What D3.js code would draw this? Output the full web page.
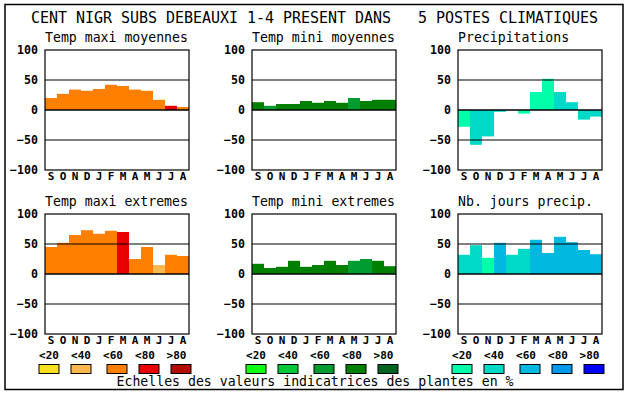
<!DOCTYPE html>
<html>
<head>
<meta charset="utf-8">
<script src="https://cdn.jsdelivr.net/npm/d3@7"></script>
<style>
  body { margin: 0; background: #fff; }
  svg { display: block; }
  text { font-family: 'DejaVu Sans Mono', 'Liberation Mono', monospace; fill: #000; }
</style>
</head>
<body>
<div id="chart"></div>
<script>
// Months (sept -> aug)
const months = ['S', 'O', 'N', 'D', 'J', 'F', 'M', 'A', 'M', 'J', 'J', 'A'];
const yTicks = [-100, -50, 0, 50, 100];
const classLabels = ['<20', '<40', '<60', '<80', '>80'];

// Colour scales for the indicator classes
const orangeScale = ['#f8e020', '#ffb850', '#ff8000', '#e80000', '#b00c00'];
const greenScale = ['#10ff10', '#00c838', '#009c30', '#008000', '#006420'];
const blueScale = ['#00ffa8', '#00d8c8', '#00b8e0', '#0098e8', '#0000ff'];

// Values, with the class index of every bar
const maxiMoyValues = [20, 27, 34, 32, 35, 42, 40, 34, 32, 17, 7, 5];
const maxiMoyClass = [2, 2, 2, 2, 2, 2, 2, 2, 2, 2, 3, 2];
const miniMoyValues = [13, 7, 10, 10, 15, 12, 15, 12, 20, 15, 17, 17];
const miniMoyClass = [3, 2, 3, 3, 3, 3, 3, 3, 2, 3, 3, 3];
const precipValues = [-28, -58, -44, -3, 0, -6, 30, 52, 30, 13, -16, -11];
const precipClass = [0, 1, 1, 1, 0, 0, 0, 0, 1, 1, 1, 1];
const maxiExtValues = [45, 52, 65, 73, 67, 72, 70, 25, 45, 15, 32, 30];
const maxiExtClass = [2, 2, 2, 2, 2, 2, 3, 2, 2, 1, 2, 2];
const miniExtValues = [17, 10, 12, 22, 12, 15, 22, 15, 22, 25, 22, 13];
const miniExtClass = [3, 3, 3, 3, 3, 3, 3, 3, 2, 2, 3, 3];
const joursValues = [32, 48, 27, 52, 32, 42, 57, 35, 62, 53, 40, 33];
const joursClass = [1, 1, 0, 2, 1, 1, 2, 2, 2, 2, 2, 2];

const panels = [
  { title: 'Temp maxi moyennes', values: maxiMoyValues, cls: maxiMoyClass, colors: orangeScale, col: 0, row: 0 },
  { title: 'Temp mini moyennes', values: miniMoyValues, cls: miniMoyClass, colors: greenScale, col: 1, row: 0 },
  { title: 'Precipitations', values: precipValues, cls: precipClass, colors: blueScale, col: 2, row: 0 },
  { title: 'Temp maxi extremes', values: maxiExtValues, cls: maxiExtClass, colors: orangeScale, col: 0, row: 1 },
  { title: 'Temp mini extremes', values: miniExtValues, cls: miniExtClass, colors: greenScale, col: 1, row: 1 },
  { title: 'Nb. jours precip.', values: joursValues, cls: joursClass, colors: blueScale, col: 2, row: 1 }
];

const width = 630, height = 394;
const plotW = 144, plotH = 120;
const colX = [45, 252, 458];
const rowY = [50, 214];

const svg = d3.select('#chart').append('svg')
  .attr('width', width)
  .attr('height', height);

// outer frame
svg.append('rect')
  .attr('x', 5).attr('y', 4.5)
  .attr('width', 618).attr('height', 385)
  .attr('fill', 'none')
  .attr('stroke', '#000')
  .attr('stroke-width', 1.5);

svg.append('text')
  .attr('x', 31).attr('y', 23)
  .style('font-size', '15px')
  .attr('textLength', 567)
  .attr('xml:space', 'preserve')
  .style('white-space', 'pre')
  .text('CENT NIGR SUBS DEBEAUXI 1-4 PRESENT DANS   5 POSTES CLIMATIQUES');

const x = d3.scaleBand()
  .domain(d3.range(months.length))
  .range([0, plotW])
  .padding(0);

const y = d3.scaleLinear()
  .domain([-100, 100])
  .range([plotH, 0]);

panels.forEach(p => {
  const g = svg.append('g')
    .attr('transform', `translate(${colX[p.col]},${rowY[p.row]})`);

  // subtitle
  g.append('text')
    .attr('x', 0).attr('y', -8)
    .style('font-size', '13.2px')
    .text(p.title);

  // bars
  g.selectAll('.bar')
    .data(p.values)
    .enter().append('rect')
    .attr('class', 'bar')
    .attr('x', (d, i) => x(i))
    .attr('width', x.bandwidth())
    .attr('y', d => y(Math.max(0, d)))
    .attr('height', d => Math.abs(y(d) - y(0)))
    .attr('fill', (d, i) => p.colors[p.cls[i]]);

  // grid lines drawn over the bars
  g.selectAll('.grid')
    .data([-50, 0, 50])
    .enter().append('line')
    .attr('x1', 0).attr('x2', plotW)
    .attr('y1', d => y(d)).attr('y2', d => y(d))
    .attr('stroke', '#000')
    .attr('stroke-width', d => d === 0 ? 1.6 : 1);

  g.append('rect')
    .attr('width', plotW).attr('height', plotH)
    .attr('fill', 'none')
    .attr('stroke', '#000')
    .attr('stroke-width', 1.2);

  // y axis
  const yAxis = d3.axisLeft(y).tickValues(yTicks).tickSize(0).tickPadding(7);
  const ya = g.append('g').call(yAxis);
  ya.select('.domain').remove();
  ya.selectAll('text')
    .style('font-family', "'DejaVu Sans Mono', monospace")
    .style('font-size', '11.6px')
    .style('font-weight', 'bold')
    .attr('fill', '#000');

  // month labels
  const xAxis = d3.axisBottom(x).tickSize(0).tickPadding(2).tickFormat(i => months[i]);
  const xa = g.append('g').attr('transform', `translate(0,${plotH})`).call(xAxis);
  xa.select('.domain').remove();
  xa.selectAll('text')
    .style('font-family', "'DejaVu Sans Mono', monospace")
    .style('font-size', '11px')
    .style('font-weight', 'bold')
    .attr('fill', '#000');
});

// legends under the bottom row
const labelOff = [4, 36, 68, 100, 131.5];
const swatchOff = [4, 36, 72, 104, 136];
[orangeScale, greenScale, blueScale].forEach((scale, c) => {
  const lg = svg.append('g').attr('transform', `translate(${colX[c]},0)`);
  lg.selectAll('.lab')
    .data(classLabels)
    .enter().append('text')
    .attr('x', (d, i) => labelOff[i])
    .attr('y', 359)
    .attr('text-anchor', 'middle')
    .style('font-size', '11px')
    .style('font-weight', 'bold')
    .text(d => d);
  lg.selectAll('.sw')
    .data(scale)
    .enter().append('rect')
    .attr('x', (d, i) => swatchOff[i] - 10)
    .attr('y', 364.5)
    .attr('width', 20).attr('height', 9)
    .attr('fill', d => d)
    .attr('stroke', '#000')
    .attr('stroke-width', 1);
});

svg.append('text')
  .attr('x', 315).attr('y', 386)
  .attr('text-anchor', 'middle')
  .style('font-size', '13.2px')
  .text('Echelles des valeurs indicatrices des plantes en %');
</script>
</body>
</html>
